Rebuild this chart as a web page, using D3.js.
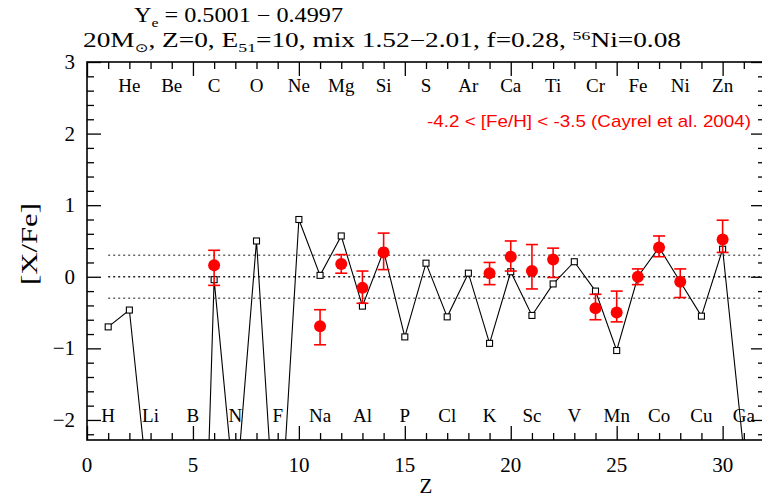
<!DOCTYPE html>
<html>
<head>
<meta charset="utf-8">
<script src="https://cdn.jsdelivr.net/npm/d3@7"></script>
<style>
  html, body { margin: 0; padding: 0; background: #fff; }
  svg { display: block; }
</style>
</head>
<body>
<svg id="chart" width="762" height="498"></svg>
<script>
// ---------------- data ----------------
const modelZ = [1, 2, 3, 4, 5, 6, 7, 8, 9, 10, 11, 12, 13, 14, 15, 16, 17, 18, 19, 20, 21, 22, 23, 24, 25, 26, 27, 28, 29, 30, 31];
const modelXFe = [-0.70, -0.465, -3.3, -5.0, -9.5, -0.04, -3.15, 0.50, -4.15, 0.80, 0.02, 0.57, -0.41, 0.36, -0.84, 0.19, -0.56, 0.05, -0.93, 0.07, -0.54, -0.10, 0.21, -0.20, -1.03, 0.00, 0.41, -0.07, -0.55, 0.385, -2.45];

const obsZ = [6, 11, 12, 13, 14, 19, 20, 21, 22, 24, 25, 26, 27, 28, 30];
const obsXFe = [0.16, -0.69, 0.18, -0.155, 0.34, 0.05, 0.28, 0.08, 0.24, -0.44, -0.50, 0.00, 0.41, -0.07, 0.52];
const obsLow = [-0.12, -0.95, 0.05, -0.37, 0.10, -0.11, 0.08, -0.17, -0.01, -0.60, -0.63, -0.11, 0.28, -0.29, 0.34];
const obsHigh = [0.37, -0.46, 0.31, 0.08, 0.61, 0.20, 0.50, 0.45, 0.40, -0.245, -0.20, 0.11, 0.57, 0.11, 0.79];

const topSymbols = ["He", "Be", "C", "O", "Ne", "Mg", "Si", "S", "Ar", "Ca", "Ti", "Cr", "Fe", "Ni", "Zn"];
const topZ = [2, 4, 6, 8, 10, 12, 14, 16, 18, 20, 22, 24, 26, 28, 30];
const bottomSymbols = ["H", "Li", "B", "N", "F", "Na", "Al", "P", "Cl", "K", "Sc", "V", "Mn", "Co", "Cu", "Ga"];
const bottomZ = [1, 3, 5, 7, 9, 11, 13, 15, 17, 19, 21, 23, 25, 27, 29, 31];

const xMajorTicks = [0, 5, 10, 15, 20, 25, 30];
const yMajorTicks = [-2, -1, 0, 1, 2, 3];
const yTickLabels = ["\u22122", "\u22121", "0", "1", "2", "3"];
const refLines = [0.3, 0, -0.3];

const legendText = "-4.2 < [Fe/H] < -3.5 (Cayrel et al. 2004)";

// ---------------- layout ----------------
const svg = d3.select("#chart");
const L = 87, R = 765, T = 62, B = 440;
const x = d3.scaleLinear().domain([0, 32]).range([L, R]);
const y = d3.scaleLinear().domain([-2.28, 3]).range([B, T]);
const serif = "Liberation Serif";

svg.append("defs").append("clipPath").attr("id", "plotclip")
  .append("rect").attr("x", L).attr("y", T).attr("width", R - L).attr("height", B - T);

// axes with inward ticks on all sides
const xMinor = d3.range(0, 33, 1).filter(v => v % 5 !== 0);
const yMinor = d3.range(-2.2, 3.0001, 0.2).map(v => +v.toFixed(1)).filter(v => Math.abs(v - Math.round(v)) > 1e-6);

function axisG(axis, tx, ty) {
  const g = svg.append("g").attr("transform", `translate(${tx},${ty})`).call(axis);
  g.select(".domain").remove();
  g.selectAll("line").attr("stroke", "#000").attr("stroke-width", 1.3);
  g.selectAll("text").remove();
  return g;
}
const MAJ = 14, MIN = 7;
axisG(d3.axisBottom(x).tickValues(xMajorTicks).tickSize(-MAJ), 0, B);
axisG(d3.axisBottom(x).tickValues(xMinor).tickSize(-MIN), 0, B);
axisG(d3.axisTop(x).tickValues(xMajorTicks).tickSize(-MAJ), 0, T);
axisG(d3.axisTop(x).tickValues(xMinor).tickSize(-MIN), 0, T);
axisG(d3.axisLeft(y).tickValues(yMajorTicks).tickSize(-MAJ), L, 0);
axisG(d3.axisLeft(y).tickValues(yMinor).tickSize(-MIN), L, 0);
axisG(d3.axisRight(y).tickValues(yMajorTicks).tickSize(-MAJ), R, 0);
axisG(d3.axisRight(y).tickValues(yMinor).tickSize(-MIN), R, 0);

// frame
svg.append("rect").attr("x", L).attr("y", T).attr("width", R - L).attr("height", B - T)
  .attr("fill", "none").attr("stroke", "#000").attr("stroke-width", 1.6);

// tick labels
svg.append("g").selectAll("text").data(xMajorTicks).join("text")
  .attr("x", d => x(d)).attr("y", 472)
  .attr("text-anchor", "middle").attr("font-family", serif).attr("font-size", 21)
  .text(d => d);
svg.append("g").selectAll("text").data(yMajorTicks).join("text")
  .attr("x", 75).attr("y", d => y(d) + 7)
  .attr("text-anchor", "end").attr("font-family", serif).attr("font-size", 21)
  .text((d, i) => yTickLabels[i]);

// axis titles
svg.append("text").attr("x", x(16)).attr("y", 493)
  .attr("text-anchor", "middle").attr("font-family", serif).attr("font-size", 21).text("Z");
svg.append("text").attr("transform", `translate(37,${(y(0) + y(1)) / 2 + 3}) rotate(-90)`)
  .attr("text-anchor", "middle").attr("font-family", serif).attr("font-size", 23)
  .attr("textLength", 82).attr("lengthAdjust", "spacingAndGlyphs").text("[X/Fe]");

// reference dotted lines
const plot = svg.append("g").attr("clip-path", "url(#plotclip)");
plot.selectAll("line.ref").data(refLines).join("line").attr("class", "ref")
  .attr("x1", x(1)).attr("x2", R)
  .attr("y1", d => y(d)).attr("y2", d => y(d))
  .attr("stroke", d => d === 0 ? "#222" : "#666")
  .attr("stroke-width", 1.6)
  .attr("stroke-dasharray", "2,3");

// element labels
svg.append("g").selectAll("text").data(topSymbols).join("text")
  .attr("x", (d, i) => x(topZ[i])).attr("y", 92)
  .attr("text-anchor", "middle").attr("font-family", serif).attr("font-size", 19)
  .text(d => d);
svg.append("g").selectAll("text").data(bottomSymbols).join("text")
  .attr("x", (d, i) => x(bottomZ[i])).attr("y", 422)
  .attr("text-anchor", "middle").attr("font-family", serif).attr("font-size", 19)
  .text(d => d);

// model line
const modelPts = modelZ.map((z, i) => [z, modelXFe[i]]);
plot.append("path").datum(modelPts)
  .attr("d", d3.line().x(d => x(d[0])).y(d => y(d[1])))
  .attr("fill", "none").attr("stroke", "#000").attr("stroke-width", 1.1);
plot.selectAll("rect.sq").data(modelPts.filter(d => d[1] > -2.28)).join("rect").attr("class", "sq")
  .attr("x", d => x(d[0]) - 3).attr("y", d => y(d[1]) - 3)
  .attr("width", 6).attr("height", 6)
  .attr("fill", "#fff").attr("stroke", "#000").attr("stroke-width", 1.1);

// observations
const obs = obsZ.map((z, i) => ({ z, v: obsXFe[i], lo: obsLow[i], hi: obsHigh[i] }));
const og = plot.append("g").attr("stroke", "#ff0000").attr("stroke-width", 1.6);
og.selectAll("line.eb").data(obs).join("line").attr("class", "eb")
  .attr("x1", d => x(d.z)).attr("x2", d => x(d.z))
  .attr("y1", d => y(d.lo)).attr("y2", d => y(d.hi));
og.selectAll("line.cap1").data(obs).join("line").attr("class", "cap1")
  .attr("x1", d => x(d.z) - 6).attr("x2", d => x(d.z) + 6)
  .attr("y1", d => y(d.lo)).attr("y2", d => y(d.lo));
og.selectAll("line.cap2").data(obs).join("line").attr("class", "cap2")
  .attr("x1", d => x(d.z) - 6).attr("x2", d => x(d.z) + 6)
  .attr("y1", d => y(d.hi)).attr("y2", d => y(d.hi));
plot.selectAll("circle.obs").data(obs).join("circle").attr("class", "obs")
  .attr("cx", d => x(d.z)).attr("cy", d => y(d.v)).attr("r", 6)
  .attr("fill", "#ff0000");

// legend text
svg.append("text").attr("x", 751).attr("y", 127)
  .attr("text-anchor", "end").attr("fill", "#ff0000")
  .attr("font-family", "Liberation Sans").attr("font-size", 17)
  .attr("textLength", 324).attr("lengthAdjust", "spacingAndGlyphs")
  .text(legendText);

// titles
const t1 = svg.append("text").attr("x", 134).attr("y", 22)
  .attr("font-family", serif).attr("font-size", 20)
  .attr("textLength", 209).attr("lengthAdjust", "spacingAndGlyphs");
t1.append("tspan").text("Y");
t1.append("tspan").attr("font-size", 13).attr("dy", 5).text("e");
t1.append("tspan").attr("dy", -5).text(" = 0.5001 \u2212 0.4997");

const t2 = svg.append("text").attr("x", 83).attr("y", 47)
  .attr("font-family", serif).attr("font-size", 20)
  .attr("textLength", 598).attr("lengthAdjust", "spacingAndGlyphs");
t2.append("tspan").text("20M");
t2.append("tspan").attr("font-size", 12).attr("dy", 5).attr("font-family", "DejaVu Sans").text("\u2299");
t2.append("tspan").attr("dy", -5).text(", Z=0, E");
t2.append("tspan").attr("font-size", 13).attr("dy", 5).text("51");
t2.append("tspan").attr("dy", -5).text("=10, mix 1.52\u22122.01, f=0.28, ");
t2.append("tspan").attr("font-size", 13).attr("dy", -7).text("56");
t2.append("tspan").attr("dy", 7).text("Ni=0.08");
</script>
</body>
</html>
